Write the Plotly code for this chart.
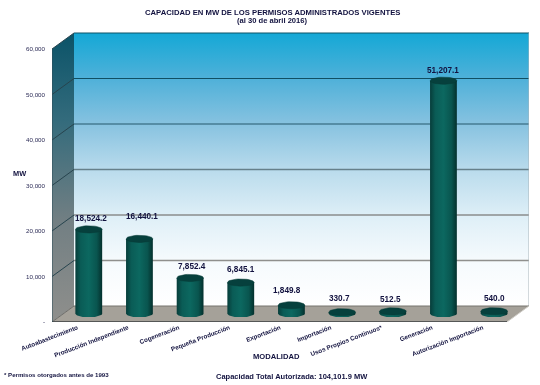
import numpy as np
import plotly.graph_objects as go

categories = ["Autoabastecimiento", "Producción Independiente", "Cogeneración", "Pequeña Producción",
              "Exportación", "Importación", "Usos Propios Continuos*", "Generación", "Autorización Importación"]
values = [18524.2, 16440.1, 7852.4, 6845.1, 1849.8, 330.7, 512.5, 51207.1, 540.0]
value_labels = ["18,524.2", "16,440.1", "7,852.4", "6,845.1", "1,849.8", "330.7", "512.5", "51,207.1", "540.0"]
y_ticks = [0, 10000, 20000, 30000, 40000, 50000, 60000]
y_tick_labels = ["-", "10,000", "20,000", "30,000", "40,000", "50,000", "60,000"]

W, H = 540, 385
L, R, T, B = 52, 529, 32, 322
PX_X = (508 - 52) / 9
PX_Y = (322 - 49) / 60000
DX, DY = (74 - 52) / PX_X, (322 - 306) / PX_Y
XMIN, XMAX = -0.5, -0.5 + (R - L) / PX_X
YMIN, YMAX = 0, (B - T) / PX_Y
YTOP = 60000
INK = "#12123f"
FONT = "Liberation Sans"
HALF = 13.4 / PX_X
EH = 3.6 / PX_Y
BAR_D = 0.52
LABEL_LIFT = [11, 22, 11, 13, 15, 14, 12, 10, 13]
LABEL_DX = [2, 3, 2, 0, -4, -3, -2, 0, 0]

fig = go.Figure()


def poly(xs, ys, **kw):
    fig.add_trace(go.Scatter(x=xs, y=ys, mode="lines", hoverinfo="skip", showlegend=False, **kw))


# side wall
poly([XMIN, XMIN + DX, XMIN + DX, XMIN, XMIN], [0, DY, YTOP + DY, YTOP, 0], fill="toself", line=dict(width=0),
     fillgradient=dict(type="vertical", colorscale=[[0, "#8f8f8c"], [0.35, "#727f83"], [0.7, "#336b7c"], [1, "#0b5368"]]))
# back wall
poly([XMIN + DX, XMAX, XMAX, XMIN + DX, XMIN + DX], [DY, DY, YTOP + DY, YTOP + DY, DY], fill="toself", line=dict(width=0),
     fillgradient=dict(type="vertical", colorscale=[[0, "#ffffff"], [0.17, "#f5fafd"], [0.33, "#deeff7"], [0.5, "#b9dbec"],
                                                    [0.67, "#86c2e0"], [0.83, "#50b1d9"], [1, "#14a8d6"]]))
# floor
poly([XMIN, XMIN + DX, XMAX, XMAX - DX, XMIN], [0, DY, DY, 0, 0], fill="toself", line=dict(width=0), fillcolor="#a5a199")
# grid lines, side wall then back wall
grid_colors = {10000: "#8f8f8d", 20000: "#8a8d8d", 30000: "#66808a", 40000: "#24596c", 50000: "#104f62", 60000: "#0e5468"}
grid_widths = {10000: 1.7, 20000: 1.7, 30000: 1.5, 40000: 1.2, 50000: 1.2, 60000: 1.2}
for tick in y_ticks[1:]:
    poly([XMIN + DX, XMAX], [tick + DY, tick + DY], line=dict(color=grid_colors[tick], width=grid_widths[tick]))
    poly([XMIN, XMIN + DX], [tick, tick + DY], line=dict(color="#27444e", width=1))
poly([XMAX, XMAX], [DY, YTOP + DY], line=dict(color="#a9b4ba", width=1))
poly([XMIN + DX, XMAX], [DY, DY], line=dict(color="#77756f", width=1))
poly([XMIN, XMIN + DX], [0, DY], line=dict(color="#6d6c68", width=1))
poly([XMAX, XMAX - DX], [DY, 0], line=dict(color="#d0cec8", width=1))
poly([XMIN, XMAX - DX], [0, 0], line=dict(color="#3b3f40", width=1.6))
poly([XMIN, XMIN], [0, YTOP], line=dict(color="#2f4f5a", width=1))

# cylinders
t = np.linspace(0, np.pi, 24)
for i, v in enumerate(values):
    cx = i + BAR_D * DX
    base = BAR_D * DY
    top = base + v
    bx = cx - HALF * np.cos(t)
    by = base - EH * np.sin(t)
    xs = np.r_[bx, cx + HALF, cx - HALF, cx - HALF]
    ys = np.r_[by, top, top, base]
    poly(list(xs), list(ys), fill="toself", line=dict(width=0),
         fillgradient=dict(type="horizontal", colorscale=[[0, "#073d3a"], [0.2, "#0a5c56"], [0.5, "#0c6860"],
                                                          [0.8, "#09554f"], [1, "#04302d"]]))
    a = np.linspace(0, 2 * np.pi, 40)
    poly(list(cx + HALF * np.cos(a)), list(top + EH * np.sin(a)), fill="toself",
         line=dict(color="#063a37", width=0.5), fillcolor="#06403d")
    fig.add_annotation(x=cx, y=top, text=f"<b>{value_labels[i]}</b>", showarrow=False, yshift=LABEL_LIFT[i],
                       xshift=LABEL_DX[i], font=dict(family=FONT, size=8.2, color=INK))


def note(text, x, y, size, anchor="center"):
    fig.add_annotation(xref="paper", yref="paper", x=(x - L) / (R - L), y=(B - y) / (B - T), text=f"<b>{text}</b>",
                       showarrow=False, xanchor=anchor, yanchor="middle", font=dict(family=FONT, size=size, color=INK))


note("CAPACIDAD EN MW DE LOS PERMISOS ADMINISTRADOS VIGENTES", 272, 12, 7.7)
note("(al 30 de abril 2016)", 272, 20.5, 7.6)
note("MW", 19, 173, 7.4)
note("MODALIDAD", 276, 356, 7.6)
note("* Permisos otorgados antes de 1993", 2, 374, 6.1, "left")
note("Capacidad Total Autorizada: 104,101.9 MW", 292, 376, 7.5)

fig.update_layout(
    width=W, height=H, autosize=False, showlegend=False, paper_bgcolor="white", plot_bgcolor="white",
    margin=dict(l=L, r=W - R, t=T, b=H - B),
    xaxis=dict(range=[XMIN, XMAX], tickmode="array", tickvals=list(range(9)), ticktext=[f"<b>{c}</b>" for c in categories],
               tickangle=-21, showgrid=False, zeroline=False, ticks="", showline=False,
               tickfont=dict(family=FONT, size=6.3, color=INK)),
    yaxis=dict(range=[YMIN, YMAX], tickmode="array", tickvals=y_ticks, ticktext=y_tick_labels, showgrid=False,
               zeroline=False, ticks="", showline=False, ticklabelstandoff=6,
               tickfont=dict(family=FONT, size=6.2, color="#2a2a55")),
)
fig.write_html("out.html", config={"displayModeBar": False},
               post_script="document.body.style.margin='0';document.documentElement.style.overflow='hidden';"
                           "document.querySelector('.plotly-graph-div').style.filter='blur(0.45px)';")
